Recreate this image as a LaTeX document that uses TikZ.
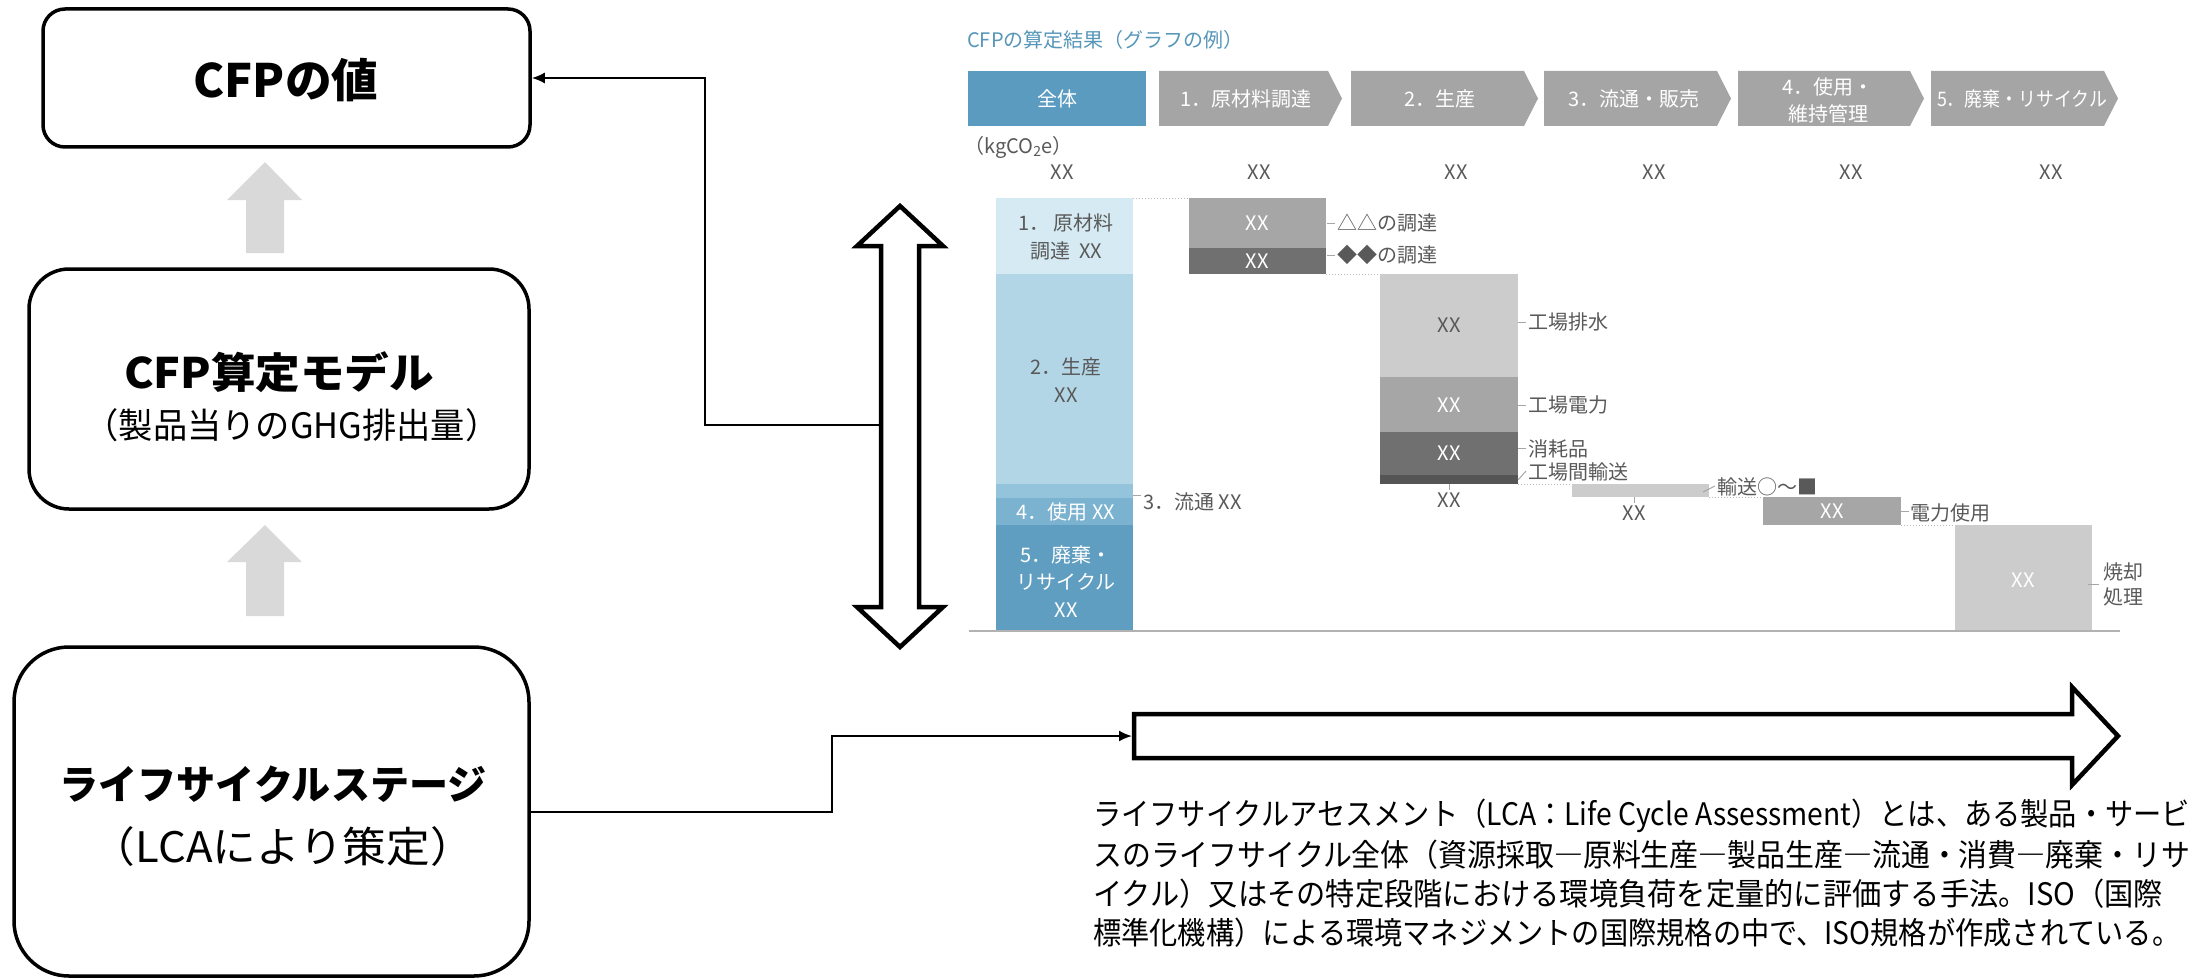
\documentclass[tikz,border=0pt]{standalone}
\usepackage{fontspec}
\usepackage{graphicx}
\setmainfont{Noto Sans CJK JP}
\usetikzlibrary{arrows.meta,calc}
\definecolor{ttl}{RGB}{86,150,184}
\definecolor{hdr}{RGB}{91,155,192}
\definecolor{chev}{RGB}{165,165,165}
\definecolor{tx}{RGB}{89,89,89}
\definecolor{sa}{RGB}{214,234,243}
\definecolor{sb}{RGB}{178,214,230}
\definecolor{sc}{RGB}{148,196,219}
\definecolor{sd}{RGB}{122,178,207}
\definecolor{se}{RGB}{95,158,192}
\definecolor{gl}{RGB}{204,204,204}
\definecolor{gm}{RGB}{166,166,166}
\definecolor{gd}{RGB}{112,112,112}
\definecolor{gdd}{RGB}{85,85,85}
\definecolor{garr}{RGB}{217,217,217}
\newcommand\fitto[2]{\setbox0=\hbox{#2}\pgfmathsetmacro\fitfac{#1/\the\wd0}\scalebox{\fitfac}[1]{\box0}}
\begin{document}
\begin{tikzpicture}[x=1pt,y=-1pt,
  box/.style={draw,line width=3.5pt,inner sep=0pt},
  conn/.style={line width=2pt,-{Latex[length=13pt,width=11pt]}},
  barr/.style={draw,line width=4.5pt,fill=white,miter limit=10},
  gtext/.style={text=tx,font=\fontsize{20}{24}\selectfont,inner sep=0pt},
  wtext/.style={text=white,font=\fontsize{20}{24}\selectfont,inner sep=0pt},
  lead/.style={draw=gray!70,line width=1pt},
  dots/.style={draw=gray!55,line width=1pt,dotted},
  desc/.style={anchor=west,inner sep=0pt,font=\fontsize{31}{36}\selectfont}
]
\useasboundingbox (0,0) rectangle (2211,979);

% ---- left boxes ----
\node[box,rounded corners=22pt,minimum width=487pt,minimum height=138pt] (b1) at (286.5,78) {};
\node[box,rounded corners=40pt,minimum width=500pt,minimum height=240pt] (b2) at (279,389) {};
\node[box,rounded corners=55pt,minimum width=515pt,minimum height=329pt] (b3) at (271.5,811.5) {};
\node[inner sep=0pt,font=\fontsize{46}{52}\selectfont\bfseries] (t1) at (286,80) {\fitto{185}{CFPの値}};
\node[inner sep=0pt,font=\fontsize{42}{48}\selectfont\bfseries] (t2a) at (279,372) {\fitto{310}{CFP算定モデル}};
\node[inner sep=0pt,font=\fontsize{35}{40}\selectfont] (t2b) at (292,425) {\fitto{415}{（製品当りのGHG排出量）}};
\node[inner sep=0pt,font=\fontsize{40}{46}\selectfont\bfseries] (t3a) at (273,784) {\fitto{427}{ライフサイクルステージ}};
\node[inner sep=0pt,font=\fontsize{42}{48}\selectfont] (t3b) at (283,847) {\fitto{382}{（LCAにより策定）}};

% grey up arrows
\fill[garr] (265,162) -- (302,200) -- (284,200) -- (284,253) -- (246,253) -- (246,200) -- (227,200) -- cycle;
\fill[garr] (265,525) -- (302,562) -- (284,562) -- (284,616) -- (246,616) -- (246,562) -- (227,562) -- cycle;

% block arrows
\draw[barr] (900,206) -- (943,246) -- (919,246) -- (919,607) -- (943,607) -- (900,647) -- (857,607) -- (881,607) -- (881,246) -- (857,246) -- cycle;
\draw[barr] (1134,714) -- (2072,714) -- (2072,687) -- (2118,736) -- (2072,785) -- (2072,758) -- (1134,758) -- cycle;
\coordinate (dbl) at (879,425);
\coordinate (rarr) at (1132,736);

% connectors
\draw[conn] (dbl) -- (705,425) |- (b1.east);
\draw[conn] (b3.east) -| (832,736) -- (rarr);

% ---- chart ----
\node[anchor=west,text=ttl,font=\fontsize{20}{24}\selectfont,inner sep=0pt] (ctitle) at (967,40) {CFPの算定結果（グラフの例）};
\fill[hdr] (968,71) rectangle (1146,126);
\node[wtext] (h0) at (1057,98.5) {全体};
\fill[chev] (1159,71) -- (1328,71) -- (1342,98.5) -- (1328,126) -- (1159,126) -- cycle;
\node[wtext] (h1) at (1246,98.5) {1．原材料調達};
\fill[chev] (1351,71) -- (1524,71) -- (1538,98.5) -- (1524,126) -- (1351,126) -- cycle;
\node[wtext] (h2) at (1440,98.5) {2．生産};
\fill[chev] (1544,71) -- (1717,71) -- (1731,98.5) -- (1717,126) -- (1544,126) -- cycle;
\node[wtext] (h3) at (1634,98.5) {3．流通・販売};
\fill[chev] (1738,71) -- (1910,71) -- (1924,98.5) -- (1910,126) -- (1738,126) -- cycle;
\node[wtext,align=center,font=\fontsize{20}{27}\selectfont] (h4) at (1828,100) {4．使用・\\維持管理};
\fill[chev] (1931,71) -- (2104,71) -- (2118,98.5) -- (2104,126) -- (1931,126) -- cycle;
\node[wtext] (h5) at (2022,98.5) {\fitto{170}{5．廃棄・リサイクル}};

\node[gtext,anchor=west] (kg) at (964,147) {（kgCO\textsubscript{2}e）};
\node[gtext] (x0) at (1062,172) {XX};
\node[gtext] (x1) at (1259,172) {XX};
\node[gtext] (x2) at (1456,172) {XX};
\node[gtext] (x3) at (1654,172) {XX};
\node[gtext] (x4) at (1851,172) {XX};
\node[gtext] (x5) at (2051,172) {XX};

% total bar
\fill[sa] (996,198) rectangle (1133,274);
\fill[sb] (996,274) rectangle (1133,484);
\fill[sc] (996,484) rectangle (1133,498);
\fill[sd] (996,498) rectangle (1133,525);
\fill[se] (996,525) rectangle (1133,631);
\node[gtext] (a1) at (1066,223) {1．\,原材料};
\node[gtext] (a2) at (1066,251) {調達\ \ XX};
\node[gtext] (a3) at (1066,367) {2．生産};
\node[gtext] (a4) at (1066,395) {XX};
\node[wtext] (a5) at (1066,512) {4．使用 XX};
\node[wtext] (a6) at (1066,555) {5．廃棄・};
\node[wtext] (a7) at (1066,582) {リサイクル};
\node[wtext] (a8) at (1066,610) {XX};
\draw[lead] (1133,495) -- (1141,495);
\node[gtext,anchor=west] (a9) at (1143,502) {3．流通 XX};

% stage 1
\fill[gm] (1189,198) rectangle (1326,248);
\fill[gd] (1189,248) rectangle (1326,274);
\node[wtext] (p1) at (1257,223) {XX};
\node[wtext] (p2) at (1257,261) {XX};
\draw[lead] (1327,223) -- (1335,223);
\draw[lead] (1327,255) -- (1335,255);
\node[gtext,anchor=west] (l1) at (1337,223) {△△の調達};
\node[gtext,anchor=west] (l2) at (1337,255) {◆◆の調達};

% stage 2
\fill[gl] (1380,274) rectangle (1518,377);
\fill[gm] (1380,377) rectangle (1518,432);
\fill[gd] (1380,432) rectangle (1518,475);
\fill[gdd] (1380,475) rectangle (1518,484);
\node[gtext] (q1) at (1449,325) {XX};
\node[wtext] (q2) at (1449,405) {XX};
\node[wtext] (q3) at (1449,453) {XX};
\draw[lead] (1449,484) -- (1449,490);
\node[gtext] (q4) at (1449,500) {XX};
\draw[lead] (1518,322) -- (1526,322);
\draw[lead] (1518,405) -- (1526,405);
\draw[lead] (1518,448) -- (1526,448);
\draw[lead] (1518,480) -- (1526,471);
\node[gtext,anchor=west] (m1) at (1528,322) {工場排水};
\node[gtext,anchor=west] (m2) at (1528,405) {工場電力};
\node[gtext,anchor=west] (m3) at (1528,449) {消耗品};
\node[gtext,anchor=west] (m4) at (1528,472) {工場間輸送};

% stage 3
\fill[gl] (1572,484) rectangle (1709,497);
\draw[lead] (1634,497) -- (1634,503);
\node[gtext] (r1) at (1634,513) {XX};
\draw[lead] (1703,492) -- (1715,486);
\node[gtext,anchor=west] (r2) at (1717,487) {輸送○～■};

% stage 4
\fill[gm] (1763,497) rectangle (1901,525);
\node[wtext] (s1) at (1832,511) {XX};
\draw[lead] (1901,511) -- (1909,511);
\node[gtext,anchor=west] (s2) at (1910,513) {電力使用};

% stage 5
\fill[gl] (1955,525) rectangle (2092,631);
\node[wtext] (u1) at (2023,580) {XX};
\draw[lead] (2088,584) -- (2099,584);
\node[gtext,anchor=west] (u2) at (2103,572) {焼却};
\node[gtext,anchor=west] (u3) at (2103,597) {処理};

% baseline and dotted links
\draw[gray!60,line width=1.2pt] (969,631) -- (2120,631);
\draw[dots] (1133,198) -- (1189,198);
\draw[dots] (1326,274) -- (1380,274);
\draw[dots] (1518,484) -- (1572,484);
\draw[dots] (1709,497) -- (1763,497);
\draw[dots] (1901,525) -- (1955,525);

% description
\node[desc] (d1) at (1093,816) {\fitto{1097}{ライフサイクルアセスメント（LCA：Life Cycle Assessment）とは、ある製品・サービ}};
\node[desc] (d2) at (1093,855) {\fitto{1097}{スのライフサイクル全体（資源採取―原料生産―製品生産―流通・消費―廃棄・リサ}};
\node[desc] (d3) at (1093,894) {\fitto{1070}{イクル）又はその特定段階における環境負荷を定量的に評価する手法。ISO（国際}};
\node[desc] (d4) at (1093,933) {\fitto{1087}{標準化機構）による環境マネジメントの国際規格の中で、ISO規格が作成されている。}};
\end{tikzpicture}
\end{document}
